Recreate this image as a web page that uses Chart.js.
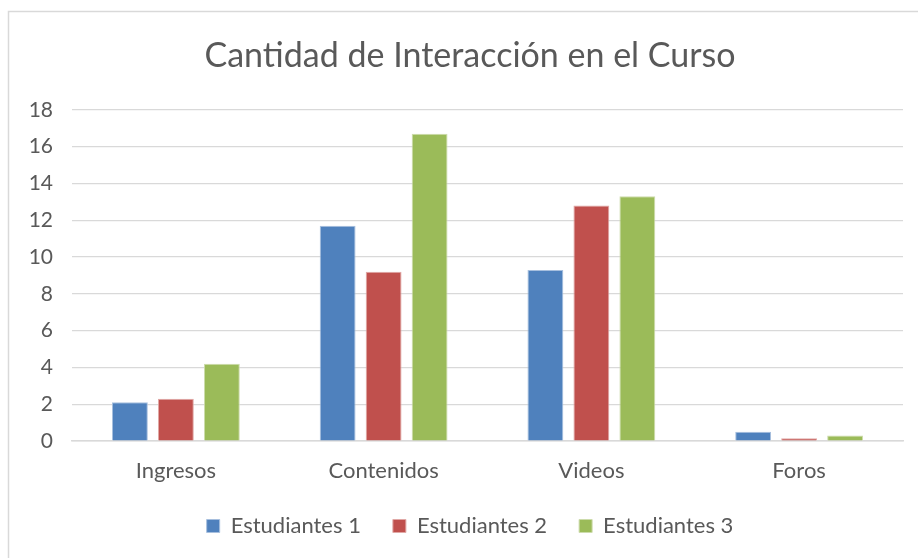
<!DOCTYPE html>
<html>
<head>
<meta charset="utf-8">
<script src="https://cdn.jsdelivr.net/npm/chart.js@4/dist/chart.umd.min.js"></script>
<style>
  html, body { margin: 0; padding: 0; background: #fff; overflow: hidden; }
  #wrap { width: 918px; height: 558px; position: relative; }
</style>
</head>
<body>
<div id="wrap"><canvas id="myChart"></canvas></div>
<script>
// Categories and series
const categories = ['Ingresos', 'Contenidos', 'Videos', 'Foros'];
const estudiantes1 = [2.1, 11.7, 9.3, 0.5];
const estudiantes2 = [2.3, 9.2, 12.8, 0.15];
const estudiantes3 = [4.2, 16.7, 13.3, 0.3];
const yTicks = [0, 2, 4, 6, 8, 10, 12, 14, 16, 18];

const textColor = '#595959';
const font = 'Lato, "Open Sans", sans-serif';

// light frame like the spreadsheet chart object
const frame = {
    id: 'frame',
    beforeDraw(chart) {
        const c = chart.ctx;
        c.save();
        c.strokeStyle = '#d9d9d9';
        c.lineWidth = 1.5;
        c.beginPath();
        c.moveTo(8.5, chart.height);
        c.lineTo(8.5, 11.5);
        c.lineTo(chart.width, 11.5);
        c.stroke();
        c.restore();
    }
};

const ctx = document.getElementById('myChart');

new Chart(ctx, {
    type: 'bar',
    data: {
        labels: categories,
        datasets: [
            { label: 'Estudiantes 1', data: estudiantes1, backgroundColor: '#4F81BD', borderColor: '#a7bfde', borderWidth: 1 },
            { label: 'Estudiantes 2', data: estudiantes2, backgroundColor: '#C0504D', borderColor: '#e0a8a6', borderWidth: 1 },
            { label: 'Estudiantes 3', data: estudiantes3, backgroundColor: '#9BBB59', borderColor: '#cddcac', borderWidth: 1 }
        ]
    },
    plugins: [frame],
    options: {
        responsive: true,
        maintainAspectRatio: false,
        animation: false,
        datasets: {
            bar: { categoryPercentage: 0.664, barPercentage: 0.78 }
        },
        layout: { padding: { left: 22, right: 0, top: 11, bottom: 11 } },
        plugins: {
            title: {
                display: true,
                text: 'Cantidad de Interacción en el Curso',
                color: textColor,
                font: { family: font, size: 34, weight: 'normal' },
                padding: { top: 25, bottom: 33 }
            },
            legend: {
                position: 'bottom',
                labels: {
                    color: textColor,
                    font: { family: font, size: 22 },
                    boxWidth: 13,
                    boxHeight: 13,
                    padding: 32
                }
            },
            tooltip: { enabled: false }
        },
        scales: {
            x: {
                afterFit: axis => {
                    axis.height = 42;
                    // let the labels hang below the shortened axis box
                    axis._computeLabelArea = () => undefined;
                },
                grid: { display: false },
                border: { color: '#d9d9d9', width: 1.5 },
                ticks: { color: textColor, font: { family: font, size: 22, lineHeight: 1 }, padding: 11 }
            },
            y: {
                min: 0,
                max: 18,
                afterBuildTicks: axis => { axis.ticks = yTicks.map(v => ({ value: v })); },
                afterFit: axis => { axis.width = 50; },
                grid: { color: '#d9d9d9', lineWidth: 1.2, drawTicks: false },
                border: { display: false },
                ticks: { color: textColor, font: { family: font, size: 21 }, padding: 19 }
            },
            // empty right-hand spacer so the plot ends where the original does
            spacer: {
                position: 'right',
                grid: { display: false },
                border: { display: false },
                ticks: { display: false },
                afterFit: axis => { axis.width = 15; }
            }
        }
    }
});
</script>
</body>
</html>
